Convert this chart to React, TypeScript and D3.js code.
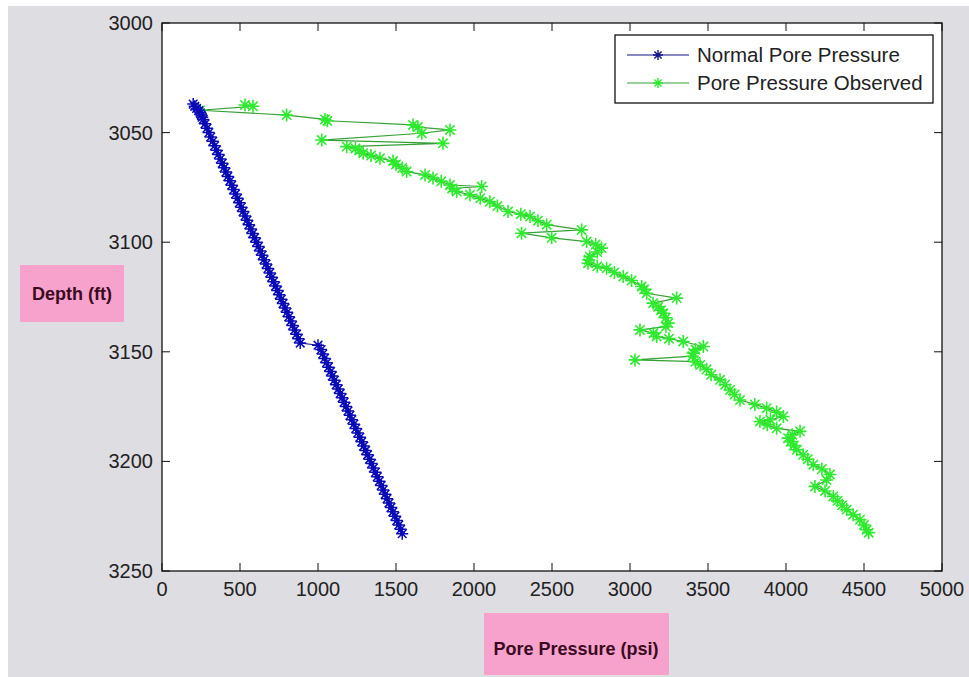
import React from 'react';
import * as d3 from 'd3';

// axis ticks
const xTicks = [0, 500, 1000, 1500, 2000, 2500, 3000, 3500, 4000, 4500, 5000];
const yTicks = [3000, 3050, 3100, 3150, 3200, 3250];

const seriesNames = ['Normal Pore Pressure', 'Pore Pressure Observed'];

// normal pore pressure (depth ft, pressure psi)
const normalDepth = [
  3037, 3038, 3039, 3040, 3041, 3042, 3043, 3044, 3046, 3048, 3050, 3052, 3054, 3056, 3058,
  3060, 3062, 3064, 3066, 3068, 3070, 3072, 3074, 3076, 3078, 3080, 3082, 3084, 3086, 3088,
  3090, 3092, 3094, 3096, 3098, 3100, 3102, 3104, 3106, 3108, 3110, 3112, 3114, 3116, 3118,
  3120, 3122, 3124, 3126, 3128, 3130, 3132, 3134, 3136, 3138, 3140, 3142, 3144, 3146,
  3147, 3149, 3151, 3153, 3155, 3157, 3159, 3161, 3163, 3165, 3167, 3169, 3171, 3173, 3175,
  3177, 3179, 3181, 3183, 3185, 3187, 3189, 3191, 3193, 3195, 3197, 3199, 3201, 3203, 3205,
  3207, 3209, 3211, 3213, 3215, 3217, 3219, 3221, 3223, 3225, 3227, 3229, 3231, 3233,
];
const normalPressure = [
  200, 210, 222, 235, 245, 252, 258, 264, 276, 288, 300, 312, 325, 337, 349,
  361, 374, 386, 398, 410, 422, 435, 447, 459, 471, 484, 496, 508, 520, 532,
  545, 557, 569, 581, 593, 606, 618, 630, 642, 654, 667, 679, 691, 703, 715,
  728, 740, 752, 764, 776, 789, 801, 813, 825, 837, 850, 862, 874, 886,
  1000, 1020, 1030, 1042, 1055, 1067, 1080, 1092, 1105, 1117, 1130, 1142, 1155, 1167, 1180,
  1192, 1205, 1217, 1230, 1242, 1255, 1268, 1280, 1293, 1305, 1318, 1330, 1343, 1355, 1368,
  1380, 1393, 1405, 1418, 1430, 1443, 1455, 1468, 1480, 1493, 1505, 1518, 1530, 1540,
];

// observed pore pressure
const observedDepth = [
  3037.4, 3038.0, 3039.8, 3042.0, 3044.0, 3044.6, 3046.5, 3047.5, 3048.8, 3050.3, 3053.4, 3054.9,
  3056.4, 3057.2, 3058.2, 3059.4, 3060.5, 3061.7, 3063.0, 3064.5, 3066.2, 3067.8, 3069.3, 3070.7,
  3072.2, 3073.9, 3074.6, 3075.5, 3076.9, 3078.4, 3080.0, 3081.5, 3083.5, 3086.0, 3087.2, 3088.3,
  3090.2, 3092.0, 3094.4, 3095.9, 3098.0, 3099.7, 3101.0, 3102.7, 3104.5, 3106.6, 3108.0, 3109.6,
  3111.0, 3111.9, 3113.8, 3115.7, 3117.5, 3120.2, 3121.5, 3123.3, 3125.5, 3127.8, 3129.5, 3131.0,
  3132.4, 3134.5, 3136.9, 3138.5, 3140.0, 3141.5, 3143.0, 3144.0, 3145.3, 3147.6, 3149.0, 3150.6,
  3152.0, 3153.7, 3154.5, 3156.0, 3158.0, 3160.5, 3162.8, 3165.0, 3167.4, 3169.5, 3172.0, 3174.0,
  3175.7, 3177.5, 3179.5, 3181.0, 3181.8, 3183.3, 3184.9, 3186.3, 3187.8, 3189.4, 3191.0, 3192.8,
  3194.7, 3197.0, 3199.0, 3201.5, 3203.5, 3206.0, 3208.5, 3211.4, 3213.5, 3216.0, 3218.0, 3220.0,
  3222.0, 3224.3, 3226.6, 3229.0, 3231.2, 3232.5,
];
const observedPressure = [
  532, 583, 244, 799, 1045, 1060, 1609, 1640, 1846, 1665, 1024, 1801,
  1184, 1240, 1265, 1290, 1340, 1397, 1481, 1500, 1540, 1568, 1686, 1737,
  1790, 1846, 2049, 1860, 1889, 1974, 2040, 2102, 2150, 2218, 2300, 2359,
  2410, 2466, 2690, 2305, 2498, 2722, 2780, 2818, 2790, 2743, 2735, 2731,
  2790, 2850, 2900, 2957, 3010, 3075, 3090, 3107, 3299, 3148, 3180, 3200,
  3213, 3230, 3245, 3230, 3064, 3150, 3171, 3250, 3341, 3470, 3420, 3405,
  3400, 3032, 3420, 3450, 3491, 3520, 3577, 3610, 3641, 3670, 3705, 3800,
  3876, 3940, 3983, 3900, 3833, 3880, 3940, 4090, 4040, 4013, 4030, 4050,
  4069, 4110, 4140, 4175, 4230, 4282, 4260, 4186, 4250, 4303, 4330, 4360,
  4389, 4430, 4474, 4500, 4517, 4530,
];

const W = 969;
const H = 677;
const plot = { left: 162, right: 942, top: 23, bottom: 571 };
const tickFont = "'Liberation Sans', Arial, sans-serif";

const blueLine = '#14148c';
const blueMark = '#0a0ab8';
const greenLine = '#35a035';
const greenMark = '#2eea2e';

// MATLAB style '*' marker
const star = (r: number) => {
  const d = r * 0.72;
  return `M${-r},0H${r}M0,${-r}V${r}M${-d},${-d}L${d},${d}M${-d},${d}L${d},${-d}`;
};

export default function App() {
  const x = d3.scaleLinear().domain([0, 5000]).range([plot.left, plot.right]);
  const y = d3.scaleLinear().domain([3000, 3250]).range([plot.top, plot.bottom]);

  const normal = normalDepth.map((d, i) => [normalPressure[i], d] as [number, number]);
  const observed = observedDepth.map((d, i) => [observedPressure[i], d] as [number, number]);

  const line = d3.line<[number, number]>()
    .x(d => x(d[0]))
    .y(d => y(d[1]));

  const tickLen = 8;

  return (
    <svg width={W} height={H} style={{ position: 'absolute', left: 0, top: 0 }}>
      <rect x={0} y={0} width={W} height={H} fill="#ffffff" />
      <rect x={8} y={6} width={W - 8} height={H - 6} fill="#dedde2" />
      <rect x={plot.left} y={plot.top} width={plot.right - plot.left} height={plot.bottom - plot.top} fill="#ffffff" />

      {/* observed series */}
      <path d={line(observed) || ''} fill="none" stroke={greenLine} strokeWidth={1.2} />
      {observed.map((p, i) => (
        <path key={'g' + i} d={star(6.5)} transform={`translate(${x(p[0])},${y(p[1])})`}
          fill="none" stroke={greenMark} strokeWidth={1.6} />
      ))}

      {/* normal series */}
      <path d={line(normal) || ''} fill="none" stroke={blueLine} strokeWidth={1.2} />
      {normal.map((p, i) => (
        <path key={'b' + i} d={star(6)} transform={`translate(${x(p[0])},${y(p[1])})`}
          fill="none" stroke={blueMark} strokeWidth={1.5} />
      ))}

      {/* axes box */}
      <rect x={plot.left} y={plot.top} width={plot.right - plot.left} height={plot.bottom - plot.top}
        fill="none" stroke="#111" strokeWidth={1.3} />

      {xTicks.map(t => (
        <g key={'xt' + t}>
          <line x1={x(t)} x2={x(t)} y1={plot.bottom} y2={plot.bottom - tickLen} stroke="#111" />
          <line x1={x(t)} x2={x(t)} y1={plot.top} y2={plot.top + tickLen} stroke="#111" />
          <text x={x(t)} y={plot.bottom + 25} textAnchor="middle" fontSize={20}
            fontFamily={tickFont} fill="#222">{t}</text>
        </g>
      ))}
      {yTicks.map(t => (
        <g key={'yt' + t}>
          <line x1={plot.left} x2={plot.left + tickLen} y1={y(t)} y2={y(t)} stroke="#111" />
          <line x1={plot.right} x2={plot.right - tickLen} y1={y(t)} y2={y(t)} stroke="#111" />
          <text x={plot.left - 9} y={y(t)} dy="0.35em" textAnchor="end" fontSize={20}
            fontFamily={tickFont} fill="#222">{t}</text>
        </g>
      ))}

      {/* legend */}
      <g>
        <rect x={615} y={35} width={318} height={68} fill="#ffffff" stroke="#111" strokeWidth={1.3} />
        {seriesNames.map((name, i) => {
          const ly = 55 + i * 28;
          const lc = i === 0 ? blueLine : greenLine;
          const mc = i === 0 ? blueLine : greenMark;
          return (
            <g key={name}>
              <line x1={627} x2={689} y1={ly} y2={ly} stroke={lc} strokeWidth={1.2} />
              <path d={star(5)} transform={`translate(658,${ly})`} fill="none" stroke={mc} strokeWidth={1.4} />
              <text x={697} y={ly} dy="0.36em" fontSize={20.5} fontFamily={tickFont} fill="#222">{name}</text>
            </g>
          );
        })}
      </g>

      {/* axis labels */}
      <rect x={20} y={265} width={104} height={57} fill="#f7a2cc" />
      <text x={72} y={294} dy="0.35em" textAnchor="middle" fontSize={18} fontWeight="bold"
        fontFamily={tickFont} fill="#3a0a22">Depth (ft)</text>
      <rect x={484} y={613} width={185} height={62} fill="#f7a2cc" />
      <text x={576} y={649} dy="0.35em" textAnchor="middle" fontSize={18} fontWeight="bold"
        fontFamily={tickFont} fill="#3a0a22">Pore Pressure (psi)</text>
    </svg>
  );
}
